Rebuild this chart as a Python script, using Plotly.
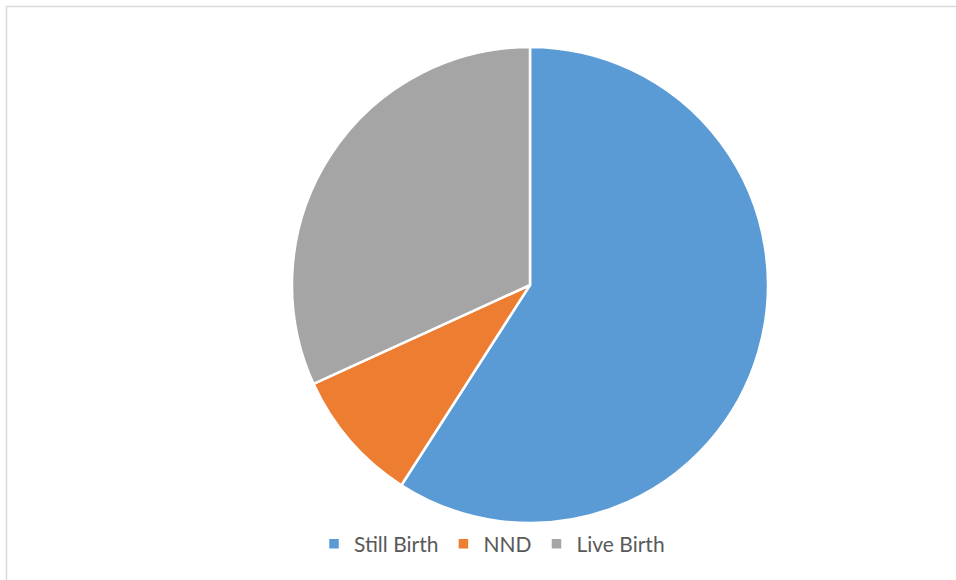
import plotly.graph_objects as go

labels = ["Still Birth", "NND", "Live Birth"]
values = [13, 2, 7]
colors = ["#5B9BD5", "#ED7D31", "#A5A5A5"]

W, H = 956, 580
cx, cy, r = 530, 285, 238

fig = go.Figure(go.Pie(
    labels=labels, values=values, sort=False, direction="clockwise", rotation=0,
    marker=dict(colors=colors, line=dict(color="white", width=2.5)),
    textinfo="none", hoverinfo="label+value+percent",
    domain=dict(x=[(cx - r) / W, (cx + r) / W], y=[1 - (cy + r) / H, 1 - (cy - r) / H]),
))

fig.update_layout(
    width=W, height=H, margin=dict(l=0, r=0, t=0, b=0),
    paper_bgcolor="white", plot_bgcolor="white",
    font=dict(family="Lato, Open Sans, sans-serif", color="#595959"),
    legend=dict(orientation="h", x=492 / W, xanchor="center", y=1 - 544 / H, yanchor="middle",
                font=dict(size=21, color="#595959"), itemwidth=30, bgcolor="rgba(0,0,0,0)"),
    shapes=[dict(type="rect", xref="paper", yref="paper", x0=6.5 / W, y0=-0.1, x1=1.1, y1=1 - 6.5 / H,
                 line=dict(color="#D9D9D9", width=1.5), fillcolor="rgba(0,0,0,0)", layer="below")],
)

fig.write_html("out.html")
